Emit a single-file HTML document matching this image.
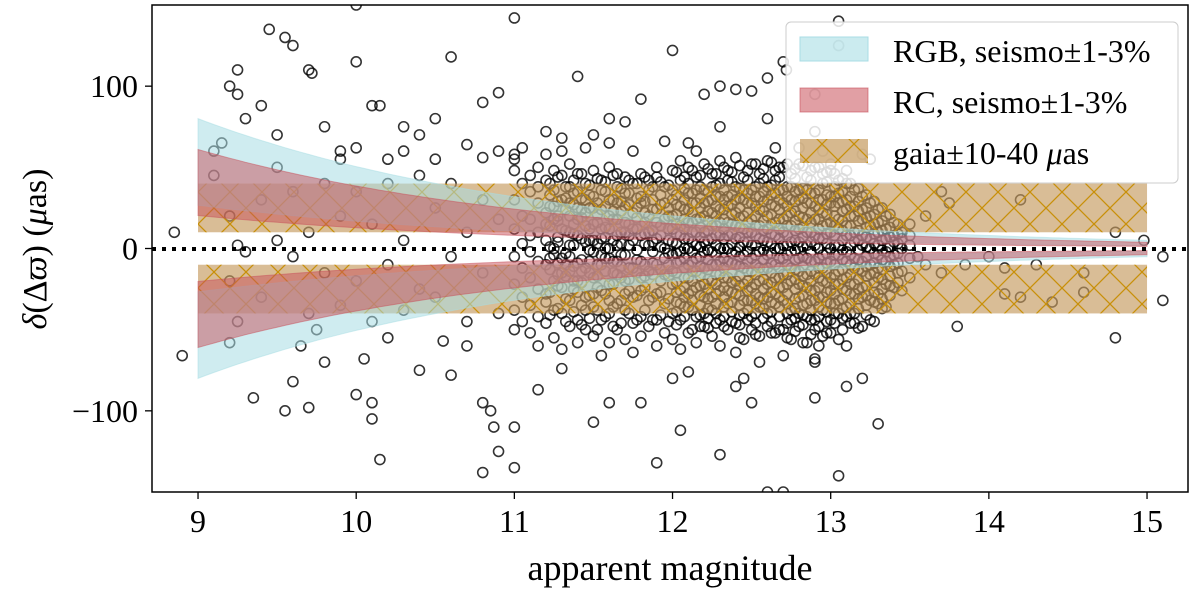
<!DOCTYPE html>
<html><head><meta charset="utf-8"><style>
body{margin:0;background:#fff;}
svg text{font-family:"Liberation Serif",serif;}
</style></head><body>
<svg id="chart" width="1200" height="589" xmlns="http://www.w3.org/2000/svg">
<defs>
<pattern id="hatch" patternUnits="userSpaceOnUse" width="32" height="32" x="198" y="0">
<path d="M0,0L32,32M0,32L32,0" stroke="#c8900a" stroke-width="1.3" fill="none"/>
</pattern>
<clipPath id="clip"><rect x="152" y="5" width="1036" height="487"/></clipPath>
</defs>
<g id="points" clip-path="url(#clip)"></g>
<g id="bands" clip-path="url(#clip)"></g>
<line x1="152" x2="1188" y1="249" y2="249" stroke="#000" stroke-width="4" stroke-dasharray="4,6"/>
<rect x="152" y="5" width="1036" height="487" fill="none" stroke="#000" stroke-width="1.5"/>
<g id="axes"></g>
<text x="670" y="580" font-size="36" text-anchor="middle">apparent magnitude</text>
<text transform="translate(46,249) rotate(-90)" font-size="34" text-anchor="middle"><tspan font-style="italic">δ</tspan>(Δ<tspan font-style="italic">ϖ</tspan>) (<tspan font-style="italic">μ</tspan>as)</text>
<g>
<rect x="786" y="22" width="392" height="161" rx="5" fill="#fff" fill-opacity="0.85" stroke="#ccc" stroke-width="1"/>
<rect x="800" y="37" width="68" height="24" fill="#a8dde4" fill-opacity="0.6" stroke="#a8dde4"/>
<text x="893" y="62" font-size="32">RGB, seismo±1-3%</text>
<rect x="800" y="88" width="68" height="24" fill="#c8505a" fill-opacity="0.55" stroke="#c8505a" stroke-opacity="0.6"/>
<text x="893" y="113" font-size="32">RC, seismo±1-3%</text>
<rect x="800" y="139" width="68" height="24" fill="#c49a5e" fill-opacity="0.7"/>
<rect x="800" y="139" width="68" height="24" fill="url(#hatch)"/>
<text x="893" y="164" font-size="32">gaia±10-40 <tspan font-style="italic">μ</tspan>as</text>
</g>
</svg>
<script>
const xTicks=[9,10,11,12,13,14,15];
const yTicks=[100,0,-100];
const yTickLabels=["100","0","\u2212100"];
const rgbAmp=[80,26.7];
const rcAmp=[61,20.3];
const gaiaBand=[10,40];
const gaiaRange=[9,15];
const bandRange=[9,15];
const outlierPts=[9.25,110,9.2,100,9.25,95,9.45,135,9.55,130,9.6,125,9.7,110,9.72,108,9.4,88,9.5,70,9.8,75,9.9,60,10.0,62,10.1,88,10.15,88,10.0,115,10.0,150,10.3,75,10.4,70,10.5,80,10.6,118,10.8,90,10.9,96,11.0,142,11.4,106,11.6,80,11.7,78,12.0,122,12.2,95,12.3,100,12.4,98,12.5,97,12.7,115,12.72,110,12.9,95,13.05,140,13.05,125,12.6,105,11.8,92,11.2,72,11.3,68,10.7,64,10.2,55,9.3,80,9.15,65,9.1,60,8.85,10,8.9,-66,9.2,-58,9.35,-92,9.55,-100,9.6,-82,9.7,-98,9.75,-50,10.0,-90,10.05,-68,10.1,-95,10.1,-105,10.15,-130,10.4,-75,10.55,-57,10.8,-95,10.85,-100,10.87,-110,10.9,-125,10.8,-138,11.0,-110,11.0,-135,11.15,-87,11.3,-74,11.5,-107,11.6,-95,11.8,-95,11.9,-132,12.0,-80,12.05,-112,12.1,-76,12.3,-127,12.4,-85,12.45,-80,12.6,-150,12.7,-150,12.5,-95,12.9,-92,13.05,-140,13.3,-108,13.1,-85,13.2,-80,12.9,-70,13.8,-48,14.1,-28,14.2,-30,14.4,-33,14.6,-27,14.8,-55,15.1,-32,15.1,-5,14.98,5,14.6,-15,14.0,-5,14.3,-10,14.1,-12,13.7,-15,13.6,-10,13.55,-5,13.85,-10,14.8,10,14.2,30,13.6,20,13.5,15,13.75,28,13.7,35,12.9,72,12.95,60,13.2,58,13.25,55,13.0,52,13.1,48,12.8,62,12.6,80,12.1,65,12.3,75,11.95,66,11.5,70,11.6,65,11.0,58,10.9,60,10.8,56,9.25,2,9.3,-2,9.5,5,9.6,-5,9.7,10,9.8,-15,9.9,20,10.0,-20,10.1,15,10.2,-10,10.3,5,10.4,-25,10.5,25,10.6,-5,10.7,10,10.8,-15,10.9,18,9.4,30,9.6,35,9.8,40,10.0,35,10.2,40,10.4,45,10.6,40,10.8,30,9.4,-30,9.7,-40,9.9,-35,10.1,-45,10.3,-38,10.5,-30,10.7,-45,10.9,-40,9.2,20,9.2,-20,9.1,45,9.25,-45,9.5,50,9.65,-60,9.9,55,10.2,-55,10.5,55,10.7,-60,9.8,-70,10.6,-78,10.3,60];
const coreMags=[11.00,11.05,11.10,11.15,11.20,11.25,11.30,11.35,11.40,11.45,11.50,11.55,11.60,11.65,11.70,11.75,11.80,11.85,11.90,11.95,12.00,12.05,12.10,12.15,12.20,12.25,12.30,12.35,12.40,12.45,12.50,12.55,12.60,12.65,12.70,12.75,12.80,12.85,12.90,12.95,13.00,13.05,13.10,13.15,13.20,13.25,13.30,13.35,13.40,13.45,13.50];
const coreVals=[[48,30,12,-5,-22,-38,55,-50],[40,20,3,-12,-30,-45,62],[35,18,-2,-18,-35,-52,45,8],[50,28,10,-8,-25,-42,-60,38],[42,22,5,-10,-28,-46,58,-33,15],[36,18,-4,-20,-38,-55,48,26,0],[45,30,12,-6,-24,-40,-62,60,-15],[38,20,2,-14,-32,-48,52,28,-5,10],[46,25,8,-9,-27,-44,-58,35,18,-20],[40,22,4,-12,-30,-50,62,14,-38,30],[48,32,15,-2,-18,-36,-54,25,5,-28],[42,24,6,-10,-26,-44,-66,36,-4,12],[50,30,12,-6,-22,-40,-58,20,0,-32],[38,18,2,-16,-34,-50,46,28,-8,8],[44,26,10,-4,-20,-38,-56,34,16,-28],[40,22,5,-12,-30,-46,60,-64,12],[46,28,8,-8,-26,-42,-54,32,-18],[36,20,2,-14,-32,-48,42,10],[44,24,6,-10,-28,-44,50,-60,16],[38,18,0,-16,-34,-52,28,-6],[48,30,12,-4,-22,-40,-56,36,20,-14,4],[42,26,8,-8,-26,-44,54,14,-2,-34,-62],[50,34,16,0,-18,-36,-52,24,6,-10,-28,40],[44,28,10,-6,-24,-42,-58,36,18,-14,2,60],[52,36,20,4,-12,-30,-48,28,10,-22,-40,-2],[46,30,14,-2,-20,-38,-54,38,22,6,-10,-30],[54,40,24,8,-8,-26,-44,-60,32,16,-16,0],[48,32,16,0,-18,-34,-50,42,26,8,-8,-26],[56,38,22,6,-10,-28,-46,-64,30,14,-20,-2],[44,30,12,-4,-22,-40,-56,36,20,4,-12,-32],[52,36,18,2,-14,-32,-50,28,10,-6,-24,-42],[46,32,14,-2,-20,-36,-54,40,24,6,-12,-30,-70],[54,38,20,4,-12,-30,-48,30,12,-4,-22,-40],[48,34,16,0,-18,-34,-52,42,26,8,-10,-28,62],[50,36,18,2,-16,-32,-50,-66,28,10,-6,-24],[46,30,14,-2,-20,-38,-56,38,22,4,-12,-44],[52,36,20,4,-14,-30,-48,30,12,-6,-22,-40],[44,28,10,-6,-24,-42,-58,36,18,2,-16,-34],[50,34,18,2,-16,-32,-50,26,8,-8,-26,-44,-68],[46,30,14,-4,-20,-38,-54,40,22,6,-12,-30],[48,32,16,0,-18,-34,-52,28,10,-8,-26,-44],[42,28,12,-4,-22,-40,-56,34,18,2,-14,-32],[40,24,8,-8,-26,-42,-60,30,14,-2,-18,-36],[36,20,4,-12,-28,-46,26,10,-6,-22,-40],[32,18,2,-14,-30,-48,24,8,-8,-24],[28,14,0,-16,-32,-44,20,6,-10],[24,10,-4,-18,-34,16,2,-12,-28],[20,6,-8,-22,-36,12,-2],[16,4,-10,-24,8,-4],[10,0,-14,-26,6],[8,-6,-18,2]];
const coreMags2=[11.225,11.275,11.325,11.375,11.425,11.475,11.525,11.575,11.625,11.675,11.725,11.775,11.825,11.875,11.925,11.975,12.025,12.075,12.125,12.175,12.225,12.275,12.325,12.375,12.425,12.475,12.525,12.575,12.625,12.675,12.725,12.775,12.825,12.875,12.925,12.975,13.025,13.075,13.125,13.175,13.225,13.275,13.325,13.375,13.425];
const coreVals2=[[40,26,14,1,-13,-27,-41,33,-6],[44,29,17,4,-9,-23,-37,20,-16,7],[38,24,11,-3,-17,-31,-45,31,-10],[42,27,15,2,-11,-25,-39,34,-20,9],[46,31,19,6,-7,-21,-35,24,-14,-47],[39,25,12,-1,-15,-29,-43,33,5,-8],[43,28,16,3,-10,-24,-38,21,-17,-50],[41,26,13,0,-14,-28,-42,35,7,-6],[45,30,18,5,-8,-22,-36,23,-15,-48],[37,23,10,-4,-18,-32,-46,29,-11,3],[42,27,15,2,-12,-26,-40,34,8,-19],[40,25,12,-1,-15,-29,-44,31,-7,19],[44,29,16,3,-10,-24,-38,22,-17,9],[38,24,11,-2,-16,-30,-44,30,-9,4],[41,27,14,1,-13,-27,-41,33,-20,8],[39,25,12,-3,-17,-31,-45,20,-10,5],[47,33,21,9,-3,-15,-27,-39,27,15,3,-9,-21,-33,-47],[44,30,18,6,-6,-18,-30,-42,37,24,12,0,-12,-24,-36],[48,34,22,10,-2,-14,-26,-38,-50,28,16,4,-8,-20,-32],[45,31,19,7,-5,-17,-29,-41,38,25,13,1,-11,-23,-35,-48],[49,35,23,11,-1,-13,-25,-37,-49,29,17,5,-7,-19,-31,-43],[46,32,20,8,-4,-16,-28,-40,39,26,14,2,-10,-22,-34,-46],[50,36,24,12,0,-12,-24,-36,-48,30,18,6,-6,-18,-30,-42],[47,33,21,9,-3,-15,-27,-39,41,27,15,3,-9,-21,-33,-45],[51,37,25,13,1,-11,-23,-35,-47,31,19,7,-5,-17,-29,-41,-55],[48,34,22,10,-2,-14,-26,-38,42,28,16,4,-8,-20,-32,-44],[52,38,26,14,2,-10,-22,-34,-46,32,20,8,-4,-16,-28,-40,-53],[49,35,23,11,-1,-13,-25,-37,43,29,17,5,-7,-19,-31,-43],[53,39,27,15,3,-9,-21,-33,-45,33,21,9,-3,-15,-27,-39,-52],[50,36,24,12,0,-12,-24,-36,44,30,18,6,-6,-18,-30,-42,-50],[52,38,26,14,2,-10,-22,-34,-46,32,20,8,-4,-16,-28,-40,-55],[49,35,23,11,-1,-13,-25,-37,43,29,17,5,-7,-19,-31,-43,-51],[51,37,25,13,1,-11,-23,-35,-47,31,19,7,-5,-17,-29,-41,-58],[48,34,22,10,-2,-14,-26,-38,42,28,16,4,-8,-20,-32,-44,-53],[50,36,24,12,0,-12,-24,-36,-48,30,18,6,-6,-18,-30,-42,-60],[47,33,21,9,-3,-15,-27,-39,41,27,15,3,-9,-21,-33,-45,-52],[46,32,20,8,-4,-16,-28,-40,38,26,14,2,-10,-22,-34,-46],[43,29,17,5,-7,-19,-31,-43,35,23,11,-1,-13,-25,-37,-50],[40,26,14,2,-10,-22,-34,-46,32,20,8,-4,-16,-28,-40],[37,23,11,-1,-13,-25,-37,-49,29,17,5,-7,-19,-31],[33,19,7,-5,-17,-29,-41,25,13,1,-11,-23,-35],[29,15,3,-9,-21,-33,-45,21,9,-3,-15,-27],[25,11,-1,-13,-25,-37,17,5,-7,-19,-31],[21,7,-5,-17,-29,13,1,-11,-23],[15,3,-9,-21,9,-3,-15]];

const NS="http://www.w3.org/2000/svg";
const X0=152,X1=1188,Y0=5,Y1=492;
const xMin=8.709,xMax=15.259,yMin=-150,yMax=150;
function xs(m){return X0+(m-xMin)/(xMax-xMin)*(X1-X0);}
function ys(v){return Y1-(v-yMin)/(yMax-yMin)*(Y1-Y0);}
function mk(tag,attrs,parent){const e=document.createElementNS(NS,tag);for(const k in attrs)e.setAttribute(k,attrs[k]);parent.appendChild(e);return e;}

const pg=document.getElementById('points');
function pt(m,v){
  const c=mk('circle',{cx:xs(m),cy:ys(v),r:5,fill:'none',stroke:'#000','stroke-opacity':0.8,'stroke-width':1.6},pg);
  
  
}
for(let i=0;i<outlierPts.length;i+=2)pt(outlierPts[i],outlierPts[i+1]);
coreMags.forEach((m,i)=>coreVals[i].forEach(v=>pt(m,v)));
coreMags2.forEach((m,i)=>coreVals2[i].forEach(v=>pt(m,v)));

const bg=document.getElementById('bands');
[1,-1].forEach(s=>{
  const ya=ys(s*gaiaBand[0]),yb=ys(s*gaiaBand[1]);
  const x=xs(gaiaRange[0]),w=xs(gaiaRange[1])-x,y=Math.min(ya,yb),h=Math.abs(ya-yb);
  const r=mk('rect',{x:x,y:y,width:w,height:h,fill:'#c49a5e','fill-opacity':0.65},bg);
  
  
  mk('rect',{x:x,y:y,width:w,height:h,fill:'url(#hatch)'},bg);
});
function amp(a,m){return a*Math.pow(10,-0.2*(m-bandRange[0]));}
function band(ampArr,fill,op,name){
  [1,-1].forEach(s=>{
    let d='',back=[];
    for(let m=bandRange[0];m<=bandRange[1]+1e-9;m+=0.05){
      d+=(d?'L':'M')+xs(m).toFixed(1)+','+ys(s*amp(ampArr[0],m)).toFixed(1);
      back.push(xs(m).toFixed(1)+','+ys(s*amp(ampArr[1],m)).toFixed(1));
    }
    d+='L'+back.reverse().join('L')+'Z';
    const p=mk('path',{d:d,fill:fill,'fill-opacity':op,stroke:fill,'stroke-opacity':0.5,'stroke-width':1},bg);
    
    
  });
}
band(rgbAmp,'#a8dde4',0.55,'rgb-band');
band(rcAmp,'#c8505a',0.5,'rc-band');

const ax=document.getElementById('axes');
xTicks.forEach(t=>{
  mk('line',{x1:xs(t),x2:xs(t),y1:Y1,y2:Y1+7,stroke:'#000','stroke-width':1.3},ax);
  const tx=mk('text',{x:xs(t),y:532,'font-size':32,'text-anchor':'middle'},ax);
  tx.textContent=t;
  
  
});
yTicks.forEach((t,i)=>{
  mk('line',{x1:X0-7,x2:X0,y1:ys(t),y2:ys(t),stroke:'#000','stroke-width':1.3},ax);
  const tx=mk('text',{x:138,y:ys(t)+11,'font-size':32,'text-anchor':'end'},ax);
  tx.textContent=yTickLabels[i];
  
  
});
</script>
</body></html>
